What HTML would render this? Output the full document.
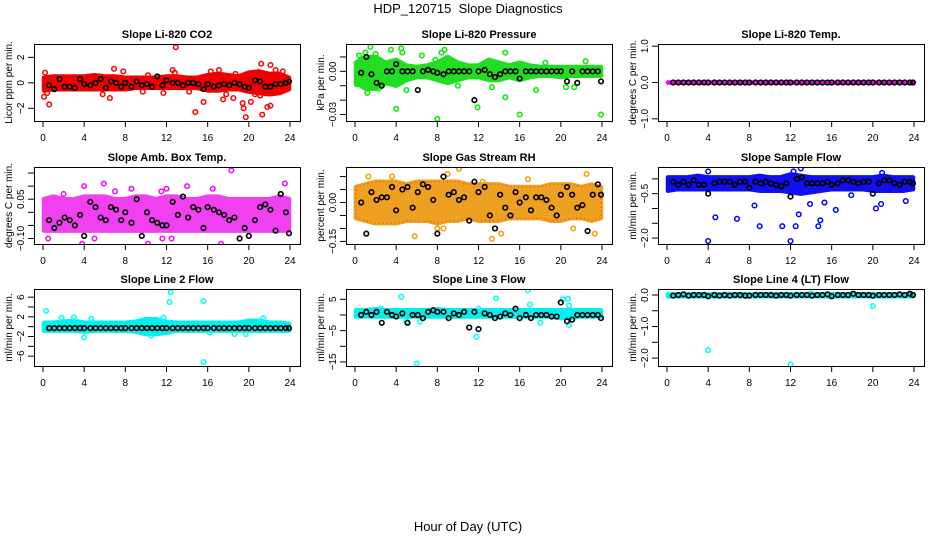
<!DOCTYPE html>
<html><head><meta charset="utf-8"><style>
html,body{margin:0;padding:0;background:#fff;}
svg{display:block;font-family:"Liberation Sans",sans-serif;}
</style></head><body>
<svg id="chart" width="936" height="540" viewBox="0 0 936 540">
<rect x="0" y="0" width="936" height="540" fill="#fff"/>
<text x="468" y="13" text-anchor="middle" font-size="13">HDP_120715&#160; Slope Diagnostics</text>
<text x="468" y="531" text-anchor="middle" font-size="13">Hour of Day (UTC)</text>
</svg>
<script>
const xTicks = [0,4,8,12,16,20,24];
const bandHours = [0.1,1,2,3,4,5,6,7,8,9,10,11,12,13,14,15,16,17,18,19,20,21,22,23,23.9];
const meanHours = [0.6,1.1,1.6,2.1,2.6,3.1,3.6,4.0, 4.6,5.1,5.6,6.1,6.6,7.1,7.6,8.0, 8.6,9.1,9.6,10.1,10.6,11.1,11.6,12.0, 12.6,13.1,13.6,14.1,14.6,15.1,15.6,16.0, 16.6,17.1,17.6,18.1,18.6,19.1,19.6,20.0, 20.6,21.1,21.6,22.1,22.6,23.1,23.6,23.9];

// Panel 1: CO2
const co2Lo = [-0.6,-0.5,-0.5,-0.5,-0.5,-0.5,-0.5,-0.5,-0.5,-0.4,-0.4,-0.4,-0.4,-0.4,-0.4,-0.4,-0.6,-0.6,-0.5,-0.5,-0.7,-0.8,-0.9,-0.8,-0.5];
const co2Hi = [0.4,0.5,0.5,0.5,0.5,0.6,0.5,0.5,0.4,0.4,0.4,0.4,0.5,0.5,0.4,0.4,0.6,0.7,0.6,0.5,0.8,0.9,0.7,0.7,0.4];
const co2Out = [[0.2,0.8],[0.1,-1.1],[0.4,-0.8],[0.6,-1.7],[6.5,-1.2],[5.8,-0.9],[6.9,1.1],[7.8,0.9],[12.9,2.8],[12.6,1.0],[12.8,0.8],[14.8,-2.3],[15.6,-1.5],[16.3,0.9],[17.1,1.0],[17.5,-1.3],[17.8,-0.9],[18.5,-1.2],[18.7,0.7],[19.4,-1.6],[19.5,-2.0],[19.7,-2.7],[20.2,-1.5],[21.2,1.5],[21.3,-2.5],[21.8,-1.9],[22.1,-1.8],[22.1,1.4],[22.6,1.0],[23.3,0.9],[20.6,-0.9],[21.1,-1.0],[9.7,-0.7],[14.2,-0.7],[11.7,-0.8],[10.2,0.6]];
const co2Mean = [-0.2,-0.5,0.3,-0.3,-0.3,-0.4,0.3,-0.1, -0.2,0.0,0.3,-0.4,0.1,0.0,-0.3,0.0, -0.3,0.1,-0.2,-0.1,-0.3,0.5,-0.2,0.2, 0.0,0.0,-0.2,0.0,0.0,-0.1,-0.5,-0.1, -0.3,-0.2,-0.1,-0.2,0.0,-0.1,-0.3,-0.4, 0.2,0.1,-0.3,-0.3,-0.1,-0.1,0.0,0.1];

// Panel 2: Pressure
const presLo = [-0.008,-0.012,-0.012,-0.008,-0.01,-0.006,-0.004,-0.004,-0.006,-0.008,-0.006,-0.004,-0.004,-0.006,-0.006,-0.004,-0.006,-0.004,-0.003,-0.003,-0.004,-0.003,-0.003,-0.003,-0.003];
const presHi = [0.006,0.01,0.01,0.006,0.008,0.004,0.003,0.004,0.006,0.01,0.006,0.004,0.004,0.008,0.006,0.004,0.006,0.004,0.003,0.003,0.003,0.003,0.003,0.003,0.003];
const presOut = [[0.2,-0.009],[0.4,0.011],[1.0,0.013],[1.5,0.017],[2.0,0.012],[2.3,-0.012],[4.0,-0.026],[4.5,0.016],[4.6,0.013],[5.0,-0.013],[6.5,0.011],[7.8,0.008],[8.0,-0.033],[8.7,0.015],[8.4,0.013],[10.0,-0.01],[11.9,-0.025],[13.3,-0.011],[14.6,-0.018],[14.6,0.013],[16.0,-0.03],[17.6,-0.013],[18.5,0.006],[20.5,-0.011],[21.3,-0.011],[22.4,0.007],[23.9,-0.03],[3.5,0.015],[1.2,-0.015]];
const presMean = [-0.001,0.01,-0.002,-0.008,-0.01,0.0,0.0,0.005, 0.0,0.0,0.0,-0.013,0.0,0.001,0.0,-0.001, -0.002,0.0,0.0,0.0,0.0,0.0,-0.02,0.0, 0.001,-0.002,-0.004,-0.002,0.0,0.0,0.0,-0.005, 0.0,0.0,0.0,0.0,0.0,0.0,0.0,0.0, -0.007,0.0,-0.008,0.0,0.0,0.0,0.0,-0.007];

// Panel 3: Li-820 Temp
const tempLo = [0,0,0,0,0,0,0,0,0,0,0,0,0,0,0,0,0,0,0,0,0,0,0,0,0];
const tempHi = [0,0,0,0,0,0,0,0,0,0,0,0,0,0,0,0,0,0,0,0,0,0,0,0,0];
const tempOut = [];
const tempMean = [0,0,0,0,0,0,0,0, 0,0,0,0,0,0,0,0, 0,0,0,0,0,0,0,0, 0,0,0,0,0,0,0,0, 0,0,0,0,0,0,0,0, 0,0,0,0,0,0,0,0];

// Panel 4: Amb Box Temp
const ambLo = [-0.07,-0.07,-0.07,-0.07,-0.07,-0.07,-0.07,-0.07,-0.07,-0.07,-0.07,-0.07,-0.07,-0.07,-0.07,-0.07,-0.07,-0.07,-0.07,-0.07,-0.07,-0.07,-0.07,-0.07,-0.07];
const ambHi = [0.05,0.06,0.05,0.05,0.06,0.06,0.06,0.05,0.05,0.06,0.06,0.05,0.06,0.06,0.05,0.05,0.06,0.06,0.05,0.05,0.05,0.05,0.05,0.06,0.05];
const ambOut = [[0.5,-0.1],[5.0,-0.1],[10.2,-0.12],[11.6,-0.1],[17.3,-0.12],[18.3,0.16],[8.6,0.09],[12.0,0.09],[4.0,0.1],[5.9,0.11],[11.5,0.08],[3.8,-0.12],[23.5,0.11],[14.0,0.1],[12.5,-0.1],[2.0,0.07],[7.0,0.08],[16.5,0.09]];
const ambMean = [-0.03,-0.06,-0.04,-0.02,-0.03,-0.05,-0.01,-0.09, 0.04,0.02,-0.02,-0.03,0.02,0.01,-0.03,0.00, -0.04,0.05,-0.09,0.00,-0.03,-0.04,-0.05,-0.05, 0.04,-0.01,0.06,-0.02,0.02,0.01,-0.06,0.02, 0.01,0.00,-0.01,-0.03,-0.02,-0.10,-0.06,-0.09, -0.03,0.02,0.03,0.01,-0.07,0.07,0.00,-0.08];

// Panel 5: Gas Stream RH
const rhLo = [-0.06,-0.07,-0.08,-0.08,-0.08,-0.07,-0.07,-0.07,-0.08,-0.07,-0.07,-0.06,-0.07,-0.07,-0.07,-0.06,-0.06,-0.06,-0.06,-0.07,-0.07,-0.06,-0.06,-0.07,-0.06];
const rhHi = [0.06,0.07,0.08,0.08,0.08,0.07,0.08,0.08,0.08,0.08,0.08,0.07,0.07,0.07,0.07,0.06,0.06,0.06,0.06,0.07,0.07,0.07,0.06,0.07,0.06];
const rhOut = [[1.3,0.1],[3.6,0.1],[5.8,-0.13],[7.8,-0.18],[8.0,-0.1],[9.0,0.11],[10.1,0.13],[12.4,0.08],[13.3,-0.14],[14.2,-0.12],[16.8,0.09],[21.2,-0.1],[22.5,0.11],[23.3,-0.12],[8.6,-0.1]];
const rhMean = [0.0,-0.12,0.04,0.01,0.02,0.02,0.06,-0.03, 0.05,0.06,-0.02,0.04,0.07,0.06,0.01,-0.12, 0.10,0.03,0.04,0.01,0.02,-0.07,0.08,0.04, 0.06,-0.05,-0.10,0.03,-0.02,-0.05,0.04,0.00, 0.02,-0.03,0.02,0.02,0.01,-0.02,-0.05,0.03, 0.06,0.03,-0.02,-0.01,-0.11,0.03,0.07,0.03];

// Panel 6: Sample Flow
const sfLo = [-0.4,-0.35,-0.35,-0.35,-0.35,-0.35,-0.35,-0.35,-0.35,-0.4,-0.4,-0.4,-0.45,-0.5,-0.45,-0.4,-0.35,-0.35,-0.35,-0.35,-0.4,-0.4,-0.4,-0.4,-0.35];
const sfHi = [0.05,0.05,0.05,0.1,0.05,0.05,0.05,0.05,0.05,0.1,0.05,0.05,0.15,0.1,0.05,0.05,0.05,0.05,0.05,0.05,0.05,0.1,0.05,0.05,0.05];
const sfOut = [[4.0,-2.1],[4.7,-1.3],[6.8,-1.35],[9.0,-1.6],[11.2,-1.6],[12.0,-2.1],[12.5,-1.6],[12.8,-1.2],[14.7,-1.6],[14.9,-1.4],[16.4,-1.05],[12.3,0.25],[13.0,0.35],[4.0,0.25],[20.9,0.2],[20.3,-1.0],[20.8,-0.85],[23.2,-0.75],[8.5,-0.9],[13.9,-0.85],[15.3,-0.8],[17.9,-0.55]];
const sfMean = [-0.1,-0.2,-0.1,-0.2,-0.05,-0.2,-0.2,-0.5, -0.15,-0.1,-0.1,-0.1,-0.2,-0.1,-0.1,-0.3, -0.1,-0.15,-0.1,-0.15,-0.2,-0.25,-0.15,-0.6, 0.0,0.05,-0.15,-0.15,-0.15,-0.15,-0.1,-0.2, -0.15,-0.05,-0.05,-0.1,-0.15,-0.1,-0.1,-0.5, -0.15,-0.05,-0.05,-0.15,-0.2,-0.1,-0.1,-0.15];

// Panel 7: Line 2 Flow
const l2Lo = [-0.8,-0.8,-0.8,-0.8,-1.0,-0.8,-0.8,-0.8,-0.8,-1.0,-1.5,-1.5,-1.2,-0.8,-0.8,-0.8,-0.8,-0.8,-0.8,-0.8,-0.8,-0.8,-0.8,-0.8,-0.8];
const l2Hi = [0.8,0.8,1.0,1.2,0.8,0.8,0.8,0.8,0.8,1.0,1.5,1.5,1.0,0.8,0.8,0.8,0.8,0.8,0.8,0.8,1.2,1.2,0.8,0.8,0.6];
const l2Out = [[0.3,3.2],[12.4,7.0],[12.3,5.0],[15.6,5.2],[15.6,-7.2],[4.0,-2.2],[4.7,1.6],[11.7,1.8],[18.6,-1.5],[19.7,-1.5],[10.5,-1.8],[21.4,1.7],[16.2,-1.2],[1.8,1.8],[3.0,1.9]];
const l2Mean = [-0.3,-0.3,-0.3,-0.3,-0.3,-0.3,-0.3,-0.3, -0.3,-0.3,-0.3,-0.3,-0.3,-0.3,-0.3,-0.3, -0.3,-0.3,-0.3,-0.3,-0.3,-0.3,-0.3,-0.3, -0.3,-0.3,-0.3,-0.3,-0.3,-0.3,-0.3,-0.3, -0.3,-0.3,-0.3,-0.3,-0.3,-0.3,-0.3,-0.3, -0.3,-0.3,-0.3,-0.3,-0.3,-0.3,-0.3,-0.3];

// Panel 8: Line 3 Flow
const l3Lo = [-0.5,-0.5,-0.5,-0.5,-0.5,-0.5,-0.5,-0.5,-0.5,-0.5,-0.5,-0.5,-0.5,-0.5,-0.5,-0.5,-0.5,-0.5,-0.5,-0.5,-1.0,-0.8,-0.5,-0.5,-0.5];
const l3Hi = [1.5,1.5,1.8,1.5,1.5,1.5,1.5,1.5,1.8,1.5,1.5,1.5,1.5,1.5,1.5,1.5,1.5,1.5,1.5,1.5,1.5,1.5,1.5,1.5,1.5];
const l3Out = [[4.5,5.8],[6.0,-15.5],[13.7,5.3],[16.8,7.9],[17.0,3.3],[20.2,5.0],[20.7,5.2],[20.8,3.0],[5.0,-2.0],[6.3,-2.2],[18.0,-2.5],[20.8,-3.2],[11.8,-7.0],[12.0,2.0],[2.5,2.0]];
const l3Mean = [0.0,1.0,0.0,1.0,-2.5,1.0,0.0,-0.5, 0.5,-2.5,0.0,0.0,-1.0,1.0,1.5,1.0, 1.0,-1.0,0.5,0.0,1.0,-4.0,1.0,-4.5, 0.5,0.0,-1.0,-0.5,0.5,0.0,2.0,-1.0, 0.0,-1.0,0.0,0.0,0.0,-0.5,-0.5,4.0, -2.0,-1.5,0.0,0.0,0.0,0.0,0.0,-1.0];

// Panel 9: Line 4 (LT) Flow
const l4Lo = [-0.04,-0.04,-0.04,-0.04,-0.04,-0.04,-0.04,-0.04,-0.04,-0.04,-0.04,-0.04,-0.04,-0.04,-0.04,-0.04,-0.04,-0.04,-0.04,-0.04,-0.04,-0.04,-0.04,-0.04,-0.04];
const l4Hi = [0.02,0.02,0.02,0.02,0.02,0.02,0.02,0.02,0.02,0.02,0.02,0.02,0.02,0.02,0.02,0.02,0.02,0.02,0.02,0.02,0.02,0.02,0.02,0.02,0.02];
const l4Out = [[4.0,-1.75],[12.0,-2.2],[20.0,-0.35],[14.0,0.05]];
const l4Mean = [-0.02,0.0,0.02,-0.02,0.0,0.0,0.0,-0.04, 0.0,-0.02,0.0,-0.02,0.0,0.0,-0.02,-0.02, 0.0,0.0,0.0,0.0,-0.02,0.0,0.0,-0.02, 0.0,0.0,0.0,-0.02,0.0,0.0,0.02,-0.04, 0.0,0.0,0.0,0.04,0.0,0.0,0.0,-0.02, 0.0,0.0,0.0,0.0,0.02,0.0,0.04,0.0];

const NS = 'http://www.w3.org/2000/svg';
const svg = document.getElementById('chart');
function mk(tag, attrs, parent){const e=document.createElementNS(NS,tag);for(const k in attrs)e.setAttribute(k,attrs[k]);(parent||svg).appendChild(e);return e;}

const panels = [
 {title:'Slope Li-820 CO2', ylab:'Licor ppm per min.', col:0,row:0, ylim:[-3.0,3.05], ticks:[-2,0,2], labels:{'-2':'\u22122','0':'0','2':'2'}, lo:co2Lo, hi:co2Hi, out:co2Out, mean:co2Mean, color:'#ff0000', fill:'#f00000'},
 {title:'Slope Li-820 Pressure', ylab:'kPa per min.', col:1,row:0, ylim:[-0.0345,0.019], ticks:[0.01,0,-0.01,-0.02,-0.03], labels:{'0':'0.00','-0.03':'\u22120.03'}, lo:presLo, hi:presHi, out:presOut, mean:presMean, color:'#00ee00', fill:'#22dd22'},
 {title:'Slope Li-820 Temp.', ylab:'degrees C per min.', col:2,row:0, ylim:[-1.06,1.06], ticks:[1,0,-1], labels:{'1':'1.0','0':'0.0','-1':'\u22121.0'}, lo:tempLo, hi:tempHi, out:tempOut, mean:tempMean, color:'#ff00ff', fill:'#ff00ff'},
 {title:'Slope Amb. Box Temp.', ylab:'degrees C per min.', col:0,row:1, ylim:[-0.121,0.173], ticks:[0.15,0.1,0.05,0,-0.05,-0.1], labels:{'0.05':'0.05','-0.1':'\u22120.10'}, lo:ambLo, hi:ambHi, out:ambOut, mean:ambMean, color:'#ff00ff', fill:'#f040f0'},
 {title:'Slope Gas Stream RH', ylab:'percent per min.', col:1,row:1, ylim:[-0.16,0.137], ticks:[0.1,0.05,0,-0.05,-0.1,-0.15], labels:{'0':'0.00','-0.15':'\u22120.15'}, lo:rhLo, hi:rhHi, out:rhOut, mean:rhMean, color:'#f0a000', fill:'#eea020', dot:'#ff2000'},
 {title:'Slope Sample Flow', ylab:'ml/min per min.', col:2,row:1, ylim:[-2.2,0.4], ticks:[0,-0.5,-1,-1.5,-2], labels:{'-0.5':'\u22120.5','-2':'\u22122.0'}, lo:sfLo, hi:sfHi, out:sfOut, mean:sfMean, color:'#0000ff', fill:'#1010ee'},
 {title:'Slope Line 2 Flow', ylab:'ml/min per min.', col:0,row:2, ylim:[-8.0,7.66], ticks:[6,4,2,0,-2,-4,-6], labels:{'6':'6','2':'2','-2':'\u22122','-6':'\u22126'}, lo:l2Lo, hi:l2Hi, out:l2Out, mean:l2Mean, color:'#00ffff', fill:'#00f0f0'},
 {title:'Slope Line 3 Flow', ylab:'ml/min per min.', col:1,row:2, ylim:[-16.3,8.3], ticks:[5,0,-5,-10,-15], labels:{'5':'5','-5':'\u22125','-15':'\u221215'}, lo:l3Lo, hi:l3Hi, out:l3Out, mean:l3Mean, color:'#00ffff', fill:'#00f0f0'},
 {title:'Slope Line 4 (LT) Flow', ylab:'ml/min per min.', col:2,row:2, ylim:[-2.25,0.19], ticks:[0,-0.5,-1,-1.5,-2], labels:{'0':'0.0','-1':'\u22121.0','-2':'\u22122.0'}, lo:l4Lo, hi:l4Hi, out:l4Out, mean:l4Mean, color:'#00ffff', fill:'#00f0f0'}
];
const rowTops = [44,167,289];
const BW = 266, BH = 77;

panels.forEach((p, pi) => {
  const L = 34 + p.col*312, T = rowTops[p.row];
  const g = mk('g', {});
  
  
  const xs = h => L + 9 + h/24*247;
  const ys = v => T + (p.ylim[1]-v)/(p.ylim[1]-p.ylim[0])*BH;
  const clip = mk('clipPath', {id:'c'+pi}, g);
  mk('rect', {x:L, y:T, width:BW, height:BH}, clip);
  const data = mk('g', {'clip-path':'url(#c'+pi+')'}, g);
  let d = '';
  bandHours.forEach((h,i)=>{ d += (i?'L':'M') + xs(h).toFixed(1) + ',' + ys(p.hi[i]).toFixed(1); });
  for (let i=bandHours.length-1;i>=0;i--) d += 'L' + xs(bandHours[i]).toFixed(1) + ',' + ys(p.lo[i]).toFixed(1);
  d += 'Z';
  const band = mk('path', {d:d, fill:p.fill, stroke:p.fill, 'stroke-width':4.5, 'stroke-linejoin':'round'}, data);
  
  
  if (p.dot) {
    const band2 = mk('path', {d:d, fill:'none', stroke:p.dot, 'stroke-width':1.2, 'stroke-dasharray':'1 3', opacity:0.7}, data);
    
    
  }
  p.out.forEach(pt => {
    const c = mk('circle', {cx:xs(pt[0]), cy:ys(pt[1]), r:2.3, fill:'none', stroke:p.color, 'stroke-width':1.5}, data);
    
    
  });
  meanHours.forEach((h,i) => {
    const c = mk('circle', {cx:xs(h), cy:ys(p.mean[i]), r:2.3, fill:'none', stroke:'#000', 'stroke-width':1.6}, data);
    
    
  });
  const box = mk('rect', {x:L+0.5, y:T+0.5, width:BW, height:BH, fill:'none', stroke:'#000', 'stroke-width':1}, g);
  
  
  const t = mk('text', {x:L+BW/2, y:T-6, 'text-anchor':'middle', 'font-size':11, 'font-weight':'bold'}, g);
  t.textContent = p.title;
  
  
  const xa = mk('g', {}, g);
  
  
  mk('line', {x1:xs(0), x2:xs(24), y1:T+BH+0.5, y2:T+BH+0.5, stroke:'#000'}, xa);
  xTicks.forEach(v => {
    mk('line', {x1:xs(v), x2:xs(v), y1:T+BH, y2:T+BH+6, stroke:'#000'}, xa);
    const lt = mk('text', {x:xs(v), y:T+BH+20, 'text-anchor':'middle', 'font-size':10}, xa);
    lt.textContent = String(v);
    
    
  });
  const ya = mk('g', {}, g);
  
  
  p.ticks.forEach(v => {
    mk('line', {x1:L-6, x2:L, y1:ys(v), y2:ys(v), stroke:'#000'}, ya);
    const key = String(v);
    if (p.labels[key] !== undefined) {
      const yl = mk('text', {x:0, y:0, 'text-anchor':'middle', 'font-size':10, transform:'translate('+(L-10)+','+ys(v)+') rotate(-90)'}, ya);
      yl.textContent = p.labels[key];
      
      
    }
  });
  const yt = mk('text', {x:0, y:0, 'text-anchor':'middle', 'font-size':10, transform:'translate('+(L-22)+','+(T+BH/2)+') rotate(-90)'}, g);
  yt.textContent = p.ylab;
  
  
});
</script>
</body></html>
